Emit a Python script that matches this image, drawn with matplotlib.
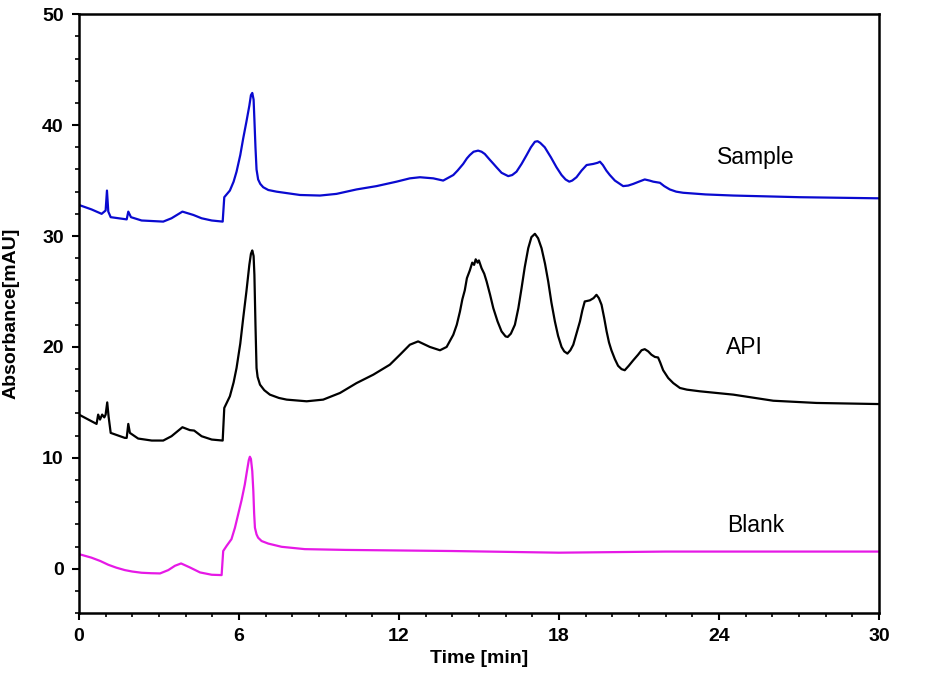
import matplotlib.pyplot as plt
from matplotlib.ticker import MultipleLocator

plt.rcParams['font.family'] = ['Liberation Sans', 'DejaVu Sans']

# Chromatogram traces (time [min], absorbance [mAU])
sample_t = [0.0, 0.47, 0.85, 1.0, 1.05, 1.1, 1.19, 1.79, 1.85, 1.95, 2.35, 3.16, 3.47, 3.88,
            4.29, 4.6, 4.98, 5.39, 5.45, 5.66, 5.8, 5.91, 6.05, 6.16, 6.28, 6.39, 6.45, 6.5,
            6.55, 6.58, 6.62, 6.66, 6.72, 6.8, 6.91, 7.1, 7.41, 8.29, 9.04, 9.66, 10.41, 11.16,
            11.91, 12.41, 12.79, 13.29, 13.66, 14.04, 14.2, 14.41, 14.55, 14.66, 14.8, 14.97,
            15.1, 15.22, 15.4, 15.55, 15.66, 15.85, 16.1, 16.25, 16.41, 16.6, 16.79, 16.95,
            17.1, 17.2, 17.3, 17.47, 17.7, 17.91, 18.1, 18.25, 18.39, 18.5, 18.66, 18.85, 19.04,
            19.29, 19.45, 19.54, 19.65, 19.78, 19.91, 20.1, 20.41, 20.6, 20.79, 21.0, 21.22,
            21.4, 21.54, 21.79, 21.95, 22.16, 22.4, 22.66, 23.5, 24.54, 27.04, 30.0]
sample_v = [32.8, 32.4, 32.0, 32.3, 34.1, 32.2, 31.7, 31.5, 32.2, 31.7, 31.4, 31.3, 31.6, 32.2,
            31.9, 31.6, 31.4, 31.3, 33.5, 34.1, 34.9, 35.8, 37.3, 38.8, 40.3, 41.75, 42.7, 42.9,
            42.3, 40.5, 38.0, 36.0, 35.1, 34.7, 34.4, 34.15, 34.0, 33.7, 33.65, 33.8, 34.2, 34.5,
            34.9, 35.2, 35.3, 35.2, 35.0, 35.5, 35.9, 36.5, 37.0, 37.3, 37.6, 37.7,
            37.6, 37.4, 36.9, 36.5, 36.2, 35.7, 35.4, 35.5, 35.8, 36.5, 37.3, 38.0,
            38.5, 38.55, 38.4, 38.0, 37.1, 36.2, 35.5, 35.1, 34.9, 35.0, 35.3, 35.9, 36.4,
            36.5, 36.6, 36.7, 36.4, 35.9, 35.5, 35.0, 34.5, 34.55, 34.7, 34.9, 35.1,
            35.0, 34.9, 34.8, 34.5, 34.2, 34.0, 33.9, 33.75, 33.65, 33.5, 33.4]

api_t = [0.0, 0.66, 0.72, 0.79, 0.87, 0.95, 1.0, 1.06, 1.11, 1.19, 1.72, 1.79, 1.85, 1.91,
         2.22, 2.73, 3.16, 3.47, 3.88, 4.16, 4.32, 4.6, 4.98, 5.39, 5.45, 5.66, 5.8, 5.91,
         6.05, 6.16, 6.28, 6.39, 6.45, 6.5, 6.55, 6.58, 6.62, 6.66, 6.7, 6.79, 6.95, 7.16,
         7.5, 7.79, 8.54, 9.16, 9.79, 10.41, 11.04, 11.66, 12.04, 12.41, 12.72, 13.16, 13.54,
         13.79, 14.04, 14.17, 14.29, 14.38, 14.47, 14.55, 14.66, 14.75, 14.82, 14.88, 14.95,
         15.0, 15.1, 15.2, 15.29, 15.42, 15.54, 15.7, 15.85, 16.0, 16.08, 16.2, 16.35, 16.48,
         16.6, 16.72, 16.85, 16.97, 17.1, 17.22, 17.35, 17.48, 17.6, 17.72, 17.85, 17.97,
         18.1, 18.2, 18.32, 18.43, 18.54, 18.66, 18.79, 18.88, 18.97, 19.16, 19.3, 19.41,
         19.5, 19.6, 19.7, 19.79, 19.88, 19.97, 20.1, 20.22, 20.35, 20.47, 20.62, 20.79,
         20.97, 21.1, 21.22, 21.35, 21.47, 21.6, 21.72, 21.8, 21.91, 22.1, 22.29, 22.54,
         22.8, 23.29, 24.54, 26.04, 27.66, 30.0]
api_v = [13.9, 13.06, 13.9, 13.45, 13.9, 13.65, 13.9, 15.0, 13.75, 12.25, 11.8, 11.8, 13.06, 12.25,
         11.74, 11.56, 11.56, 11.95, 12.76, 12.5, 12.46, 11.95, 11.65, 11.56, 14.5, 15.55, 16.8, 18.1,
         20.3, 22.6, 25.0, 27.4, 28.4, 28.7, 28.2, 26.5, 22.0, 18.1, 17.3, 16.6, 16.1, 15.7,
         15.4, 15.25, 15.1, 15.25, 15.85, 16.74, 17.5, 18.4, 19.3, 20.2, 20.5, 20.0, 19.7,
         20.0, 21.1, 22.0, 23.2, 24.3, 25.1, 26.2, 26.9, 27.6, 27.4, 27.9, 27.6,
         27.8, 27.1, 26.6, 25.9, 24.7, 23.5, 22.3, 21.4, 20.95, 20.9, 21.2, 22.0, 23.5,
         25.3, 27.2, 28.9, 29.9, 30.2, 29.8, 28.9, 27.5, 25.9, 24.0, 22.3, 21.0,
         20.0, 19.6, 19.4, 19.7, 20.2, 21.2, 22.3, 23.3, 24.1, 24.2, 24.4, 24.7,
         24.4, 23.8, 22.6, 21.4, 20.4, 19.7, 18.9, 18.3, 18.0, 17.9, 18.3, 18.8,
         19.3, 19.7, 19.8, 19.6, 19.3, 19.1, 19.05, 18.6, 17.9, 17.2, 16.74, 16.3,
         16.15, 16.0, 15.7, 15.15, 14.95, 14.85]

blank_t = [0.0, 0.47, 0.8, 1.1, 1.4, 1.72, 2.0, 2.35, 2.7, 3.04, 3.35, 3.6, 3.83, 4.16, 4.54,
           4.98, 5.35, 5.41, 5.54, 5.72, 5.85, 5.97, 6.1, 6.22, 6.3, 6.37, 6.41, 6.45, 6.5,
           6.54, 6.57, 6.6, 6.66, 6.72, 6.85, 7.1, 7.6, 8.47, 10.0, 14.0, 18.0, 22.0, 26.0, 30.0]
blank_v = [1.32, 1.0, 0.7, 0.36, 0.1, -0.12, -0.25, -0.36, -0.4, -0.42, -0.12, 0.27, 0.48, 0.12, -0.33,
           -0.54, -0.57, 1.6, 2.07, 2.67, 3.7, 4.9, 6.2, 7.6, 8.8, 9.8, 10.1, 9.9, 8.8,
           7.0, 5.0, 3.7, 3.1, 2.8, 2.5, 2.27, 1.98, 1.77, 1.7, 1.6, 1.45, 1.55, 1.55, 1.55]

trace_names = ['Sample', 'API', 'Blank']
label_pos = [(25.4, 37.1), (24.97, 19.95), (25.4, 3.9)]

fig = plt.figure(figsize=(9.29, 6.76), dpi=100)
ax = fig.add_axes([0.085, 0.093, 0.861, 0.886])

ax.plot(sample_t, sample_v, color='#0a0ad0', lw=1.6)
ax.plot(api_t, api_v, color='black', lw=1.6)
ax.plot(blank_t, blank_v, color='#e619e6', lw=1.6)

for name, (x, y) in zip(trace_names, label_pos):
    ax.text(x, y, name, fontsize=16.5, ha='center', va='center')

ax.set_xlim(0, 30)
ax.set_ylim(-4, 50)
ax.xaxis.set_major_locator(MultipleLocator(6))
ax.xaxis.set_minor_locator(MultipleLocator(1))
ax.yaxis.set_major_locator(MultipleLocator(10))
ax.yaxis.set_minor_locator(MultipleLocator(2))
ax.tick_params(which='major', direction='out', length=5, width=1.5, labelsize=14, pad=6)
ax.tick_params(which='minor', direction='out', length=3, width=1.2)
for lab in ax.get_xticklabels() + ax.get_yticklabels():
    lab.set_fontweight('bold')
for sp in ax.spines.values():
    sp.set_linewidth(1.8)

ax.set_xlabel('Time [min]', fontsize=14, fontweight='bold', labelpad=3)
ax.set_ylabel('Absorbance[mAU]', fontsize=14, fontweight='bold', labelpad=16)

fig.savefig('out.png', dpi=100)
